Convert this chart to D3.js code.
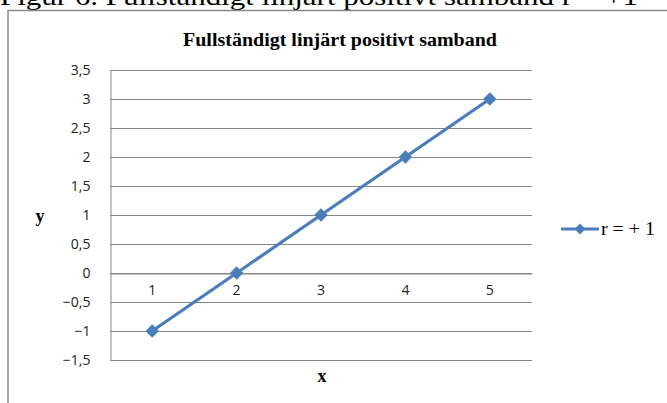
<!DOCTYPE html>
<html>
<head>
<meta charset="utf-8">
<script src="https://cdn.jsdelivr.net/npm/d3@7"></script>
<style>
  html, body { margin: 0; padding: 0; background: #fff; }
  svg { display: block; }
</style>
</head>
<body>
<svg id="chart" width="667" height="403"></svg>
<script>
// Data
const xCategories = [1, 2, 3, 4, 5];
const yValues = [-1, 0, 1, 2, 3];
const yTicks = [-1.5, -1, -0.5, 0, 0.5, 1, 1.5, 2, 2.5, 3, 3.5];
const seriesName = "r = + 1";
const chartTitle = "Fullständigt linjärt positivt samband";
const caption = "Figur 6. Fullständigt linjärt positivt samband r = +1";

const svg = d3.select("#chart");
const blue = "#4a7ebb";
const grid = "#878787";

// Caption above the chart frame (runs past the top edge)
svg.append("text")
  .attr("x", 0).attr("y", 5)
  .attr("font-family", "Liberation Serif, Times New Roman, serif")
  .attr("font-size", 25)
  .attr("textLength", 638).attr("lengthAdjust", "spacingAndGlyphs")
  .attr("fill", "#000")
  .text(caption);

// Chart frame
svg.append("rect")
  .attr("x", 8).attr("y", 10.5)
  .attr("width", 700).attr("height", 420)
  .attr("fill", "#fff")
  .attr("stroke", "#8a8a8a").attr("stroke-width", 1.5);

// Scales
const plot = { left: 110, right: 532, top: 70, bottom: 360 };
const x = d3.scaleBand().domain(xCategories).range([plot.left, plot.right]);
const y = d3.scaleLinear().domain([-1.5, 3.5]).range([plot.bottom, plot.top]);
const cx = d => x(d) + x.bandwidth() / 2;

// Horizontal gridlines
svg.append("g").selectAll("line").data(yTicks).join("line")
  .attr("x1", plot.left).attr("x2", plot.right)
  .attr("y1", d => Math.round(y(d)) + 0.5).attr("y2", d => Math.round(y(d)) + 0.5)
  .attr("stroke", grid).attr("stroke-width", 1);

// Y axis
const yAxis = d3.axisLeft(y).tickValues(yTicks).tickSize(0).tickPadding(20)
  .tickFormat(d => d3.format("")(d).replace(".", ","));
const gy = svg.append("g").attr("transform", `translate(${plot.left + 0.5},0.5)`).call(yAxis);
gy.select(".domain").attr("stroke", grid);
gy.selectAll("text")
  .attr("font-family", "Open Sans, Liberation Sans, sans-serif")
  .attr("font-size", 14).attr("fill", "#222");

// X axis (crosses at y = 0)
const xAxis = d3.axisBottom(x).tickSize(0).tickPadding(12);
const gx = svg.append("g").attr("transform", `translate(0,${Math.round(y(0)) + 0.5})`).call(xAxis);
gx.select(".domain").attr("stroke", grid);
gx.selectAll("text")
  .attr("font-family", "Open Sans, Liberation Sans, sans-serif")
  .attr("font-size", 14).attr("fill", "#222");

// Series line
const line = d3.line().x((d, i) => cx(xCategories[i])).y(d => y(d));
svg.append("path").datum(yValues)
  .attr("d", line)
  .attr("fill", "none").attr("stroke", blue).attr("stroke-width", 3.2);

// Diamond markers
const diamond = d3.symbol().type(d3.symbolSquare).size(90);
svg.append("g").selectAll("path").data(yValues).join("path")
  .attr("d", diamond)
  .attr("transform", (d, i) => `translate(${cx(xCategories[i])},${y(d)}) rotate(45)`)
  .attr("fill", blue);

// Title
svg.append("text")
  .attr("x", 340).attr("y", 46)
  .attr("text-anchor", "middle")
  .attr("font-family", "Liberation Serif, Times New Roman, serif")
  .attr("font-weight", "bold").attr("font-size", 18)
  .attr("textLength", 314).attr("lengthAdjust", "spacingAndGlyphs")
  .text(chartTitle);

// Axis titles
svg.append("text")
  .attr("x", 40).attr("y", 222).attr("text-anchor", "middle")
  .attr("font-family", "Liberation Serif, Times New Roman, serif")
  .attr("font-weight", "bold").attr("font-size", 18)
  .text("y");
svg.append("text")
  .attr("x", 322).attr("y", 382).attr("text-anchor", "middle")
  .attr("font-family", "Liberation Serif, Times New Roman, serif")
  .attr("font-weight", "bold").attr("font-size", 18)
  .text("x");

// Legend
const legend = svg.append("g").attr("transform", "translate(561,229)");
legend.append("line").attr("x1", 0).attr("x2", 38).attr("y1", 0).attr("y2", 0)
  .attr("stroke", blue).attr("stroke-width", 3.2);
legend.append("path").attr("d", d3.symbol().type(d3.symbolSquare).size(60)())
  .attr("transform", "translate(19,0) rotate(45)").attr("fill", blue);
legend.append("text")
  .attr("x", 40).attr("y", 6)
  .attr("font-family", "Liberation Serif, Times New Roman, serif")
  .attr("font-size", 19)
  .attr("textLength", 54).attr("lengthAdjust", "spacingAndGlyphs")
  .text(seriesName);
</script>
</body>
</html>
